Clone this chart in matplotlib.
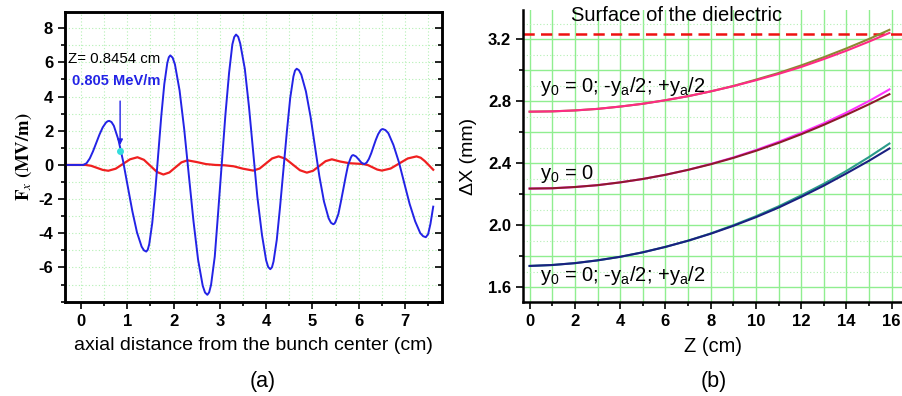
import matplotlib
matplotlib.use("Agg")
import matplotlib.pyplot as plt
from matplotlib.ticker import MultipleLocator

plt.rcParams['font.family'] = ['Liberation Sans', 'DejaVu Sans']

# ---- panel (a): transverse force along the bunch ----
blue_x = [-0.35, 0.05, 0.12, 0.19, 0.26, 0.33, 0.40, 0.47, 0.54, 0.575, 0.61, 0.66,
          0.71, 0.81, 0.91, 1.01, 1.11, 1.21, 1.31, 1.36, 1.41, 1.4425,
          1.475, 1.54, 1.605, 1.67, 1.735, 1.80, 1.865, 1.8975, 1.93, 1.98,
          2.03, 2.13, 2.23, 2.33, 2.43, 2.53, 2.63, 2.68, 2.73, 2.769,
          2.81, 2.89, 2.96, 3.04, 3.12, 3.20, 3.27, 3.311, 3.35, 3.396,
          3.44, 3.54, 3.63, 3.72, 3.81, 3.91, 4.00, 4.044, 4.09, 4.126,
          4.16, 4.23, 4.30, 4.375, 4.45, 4.52, 4.59, 4.624, 4.66, 4.709,
          4.76, 4.86, 4.96, 5.055, 5.15, 5.25, 5.35, 5.401, 5.45, 5.477,
          5.50, 5.56, 5.61, 5.665, 5.72, 5.77, 5.83, 5.853, 5.88,
          5.94, 6.00, 6.06, 6.12,
          6.17, 6.22, 6.27, 6.32, 6.37, 6.42, 6.47, 6.495, 6.52, 6.578,
          6.64, 6.75, 6.87, 6.985, 7.10, 7.22, 7.33, 7.392, 7.45,
          7.50, 7.55, 7.61]
blue_y = [0, 0, 0.10, 0.38, 0.80, 1.29, 1.78, 2.20, 2.48, 2.555, 2.58, 2.507,
          2.29, 1.46, 0.22, -1.25, -2.71, -3.95, -4.78, -4.997, -5.07, -4.961,
          -4.63, -3.39, -1.53, 0.67, 2.87, 4.73, 5.97, 6.301, 6.41, 6.277,
          5.88, 4.36, 2.09, -0.60, -3.28, -5.55, -7.07, -7.467, -7.60, -7.455,
          -7.02, -5.37, -2.90, 0.02, 2.93, 5.40, 7.05, 7.485, 7.63, 7.50,
          7.11, 5.62, 3.39, 0.77, -1.86, -4.09, -5.58, -5.97, -6.10, -5.989,
          -5.65, -4.38, -2.48, -0.24, 2.01, 3.91, 5.18, 5.519, 5.63, 5.544,
          5.28, 4.30, 2.82, 1.08, -0.66, -2.14, -3.12, -3.384, -3.47, -3.432,
          -3.32, -2.88, -2.22, -1.45, -0.67, -0.01, 0.43, 0.542, 0.58,
          0.50, 0.32, 0.13, 0.05,
          0.13, 0.35, 0.68, 1.08, 1.47, 1.80, 2.02, 2.081, 2.10, 2.04,
          1.86, 1.17, 0.15, -1.07, -2.28, -3.30, -3.99, -4.17, -4.23,
          -4.05, -3.45, -2.44]

red_x = [-0.35, 0.1, 0.22, 0.345, 0.47, 0.59, 0.75, 0.905, 1.06, 1.22,
         1.36, 1.50, 1.64, 1.78, 1.91, 2.04, 2.17, 2.30,
         2.5, 2.7, 2.9, 3.1, 3.3, 3.5, 3.72, 3.86, 3.995, 4.13, 4.27,
         4.42, 4.575, 4.73, 4.88, 5.015, 5.15, 5.285, 5.42,
         5.6, 5.8, 6.0, 6.1, 6.2, 6.3, 6.4, 6.5,
         6.69, 6.875, 7.06, 7.25, 7.34, 7.43, 7.52, 7.61]
red_y = [0, 0, -0.05, -0.17, -0.29, -0.34, -0.22, 0.055, 0.33, 0.45,
         0.30, -0.055, -0.41, -0.56, -0.44, -0.145, 0.15, 0.27,
         0.17, 0.05, 0.0, -0.02, -0.08, -0.22, -0.33, -0.21, 0.085, 0.38, 0.50,
         0.36, 0.025, -0.31, -0.45, -0.34, -0.06, 0.22, 0.33,
         0.20, 0.10, 0.07, 0.05, -0.01, -0.14, -0.27, -0.33,
         -0.21, 0.085, 0.38, 0.50, 0.42, 0.22, -0.03, -0.28]

marker_z = 0.8454
marker_f = 0.805

a_xticks = [0, 1, 2, 3, 4, 5, 6, 7]
a_xlabels = ['0', '1', '2', '3', '4', '5', '6', '7']
a_yticks = [-6, -4, -2, 0, 2, 4, 6, 8]
a_ylabels = ['-6', '-4', '-2', '0', '2', '4', '6', '8']

# ---- panel (b): transverse offset vs Z ----
z = [0, 1, 2, 3, 4, 5, 6, 7, 8, 9, 10, 11, 12, 13, 14, 15, 15.9]
top_olive = [2.733, 2.735, 2.741, 2.751, 2.766, 2.784, 2.807, 2.833, 2.864,
             2.899, 2.940, 2.983, 3.032, 3.085, 3.142, 3.203, 3.262]
top_pink = [2.733, 2.735, 2.741, 2.751, 2.766, 2.784, 2.807, 2.833, 2.864,
            2.898, 2.936, 2.977, 3.022, 3.073, 3.127, 3.186, 3.242]
mid_magenta = [2.236, 2.238, 2.246, 2.258, 2.276, 2.298, 2.325, 2.357, 2.395,
               2.437, 2.485, 2.538, 2.596, 2.658, 2.727, 2.802, 2.877]
mid_maroon = [2.236, 2.238, 2.246, 2.258, 2.276, 2.298, 2.325, 2.357, 2.393,
              2.434, 2.480, 2.531, 2.587, 2.648, 2.713, 2.781, 2.846]
bot_teal = [1.736, 1.742, 1.754, 1.772, 1.795, 1.824, 1.859, 1.899, 1.946,
            1.999, 2.057, 2.121, 2.192, 2.267, 2.350, 2.440, 2.527]
bot_navy = [1.736, 1.742, 1.754, 1.772, 1.795, 1.824, 1.859, 1.899, 1.944,
            1.995, 2.051, 2.113, 2.182, 2.255, 2.334, 2.416, 2.495]
surface = 3.234

b_xticks = [0, 2, 4, 6, 8, 10, 12, 14, 16]
b_xlabels = ['0', '2', '4', '6', '8', '10', '12', '14', '16']
b_yticks = [1.6, 2.0, 2.4, 2.8, 3.2]
b_ylabels = ['1.6', '2.0', '2.4', '2.8', '3.2']

y_label_text = r'y$_\mathregular{0}$ = 0; -y$_\mathregular{a}$/2; +y$_\mathregular{a}$/2'
y_label_single = r'y$_\mathregular{0}$ = 0'

fig = plt.figure(figsize=(9.03, 3.96), dpi=100)

# ---------------- (a) ----------------
ax1 = fig.add_axes([0.072, 0.2374, 0.4175, 0.7323])
ax1.set_xlim(-0.345, 7.8)
ax1.set_ylim(-8.02, 8.95)
for gx in [i * 0.5 for i in range(0, 16)]:
    ax1.axvline(gx, color='#b4f0b4', lw=0.8, ls=(0, (1, 2)), zorder=0)
for gy in range(-8, 9):
    ax1.axhline(gy, color='#b4f0b4', lw=0.8, ls=(0, (1, 2)), zorder=0)

ax1.plot(blue_x, blue_y, color='#2323e6', lw=1.4, zorder=3,
         solid_joinstyle='round')
ax1.plot(red_x, red_y, color='#f02020', lw=1.6, zorder=2,
         solid_joinstyle='round')
ax1.annotate('', xy=(marker_z, marker_f + 0.2), xytext=(marker_z, 3.9),
             arrowprops=dict(arrowstyle='-|>', color='#2323e6', lw=1.0,
                             mutation_scale=8), zorder=4)
ax1.plot([marker_z], [marker_f], 'o', color='#33dddd', ms=4, zorder=5)
ax1.text(-0.28, 6.2, 'Z= 0.8454 cm', fontsize=10.8, color='black', va='center')
ax1.text(-0.19, 4.9, '0.805 MeV/m', fontsize=10.5, color='#2323e6',
         fontweight='bold', va='center')

ax1.set_xticks(a_xticks)
ax1.set_xticklabels(a_xlabels, fontweight='bold', fontsize=12)
ax1.set_yticks(a_yticks)
ax1.set_yticklabels(a_ylabels, fontweight='bold', fontsize=12)
ax1.xaxis.set_minor_locator(MultipleLocator(0.5))
ax1.yaxis.set_minor_locator(MultipleLocator(1))
ax1.tick_params(which='both', direction='out', width=1.2, top=False, right=False)
ax1.tick_params(which='major', length=5)
ax1.tick_params(which='minor', length=3)
for sp in ax1.spines.values():
    sp.set_linewidth(1.8)

# inward ticks on the right frame
ax1r = ax1.twinx()
ax1r.set_ylim(ax1.get_ylim())
ax1r.set_yticks(a_yticks)
ax1r.yaxis.set_minor_locator(MultipleLocator(1))
ax1r.tick_params(which='both', direction='in', labelright=False, width=1.2)
ax1r.tick_params(which='major', length=5)
ax1r.tick_params(which='minor', length=3)
for sp in ax1r.spines.values():
    sp.set_linewidth(1.8)

ax1.set_xlabel('axial distance from the bunch center (cm)', fontsize=14, labelpad=6)
ax1.set_ylabel(r'$\mathbf{F}_{x}\ \mathbf{(MV/m)}$', fontsize=13.5, math_fontfamily='stix',
               labelpad=3)

# ---------------- (b) ----------------
ax2 = fig.add_axes([0.579, 0.2374, 0.421, 0.7373])
ax2.set_xlim(-0.3, 16.5)
ax2.set_ylim(1.503, 3.39)
for gx in range(0, 17):
    ax2.axvline(gx, color='#90ee90', lw=1.0, zorder=0)
for i in range(15, 34):
    gy = i * 0.1
    if i % 2 == 0:
        ax2.axhline(gy, color='#90ee90', lw=1.0, zorder=0)
    else:
        ax2.axhline(gy, color='#b4f0b4', lw=0.8, ls=(0, (1, 2)), zorder=0)

ax2.axhline(surface, color='#ee1111', lw=1.8, ls=(0, (4.5, 2.5)), zorder=2)

ax2.plot(z, top_olive, color='#8a8a30', lw=1.5, zorder=3)
ax2.plot(z, top_pink, color='#ff2a84', lw=1.5, zorder=4)
ax2.plot(z, mid_magenta, color='#ff33ff', lw=1.5, zorder=3)
ax2.plot(z, mid_maroon, color='#8e1a2c', lw=1.5, zorder=4)
ax2.plot(z, bot_teal, color='#2a9a8a', lw=1.5, zorder=3)
ax2.plot(z, bot_navy, color='#1a2080', lw=1.5, zorder=4)

ax2.text(1.85, 3.355, 'Surface of the dielectric', fontsize=14.5, va='center')
ax2.text(0.44, 2.895, y_label_text, fontsize=14.5, va='center',
         math_fontfamily='dejavusans')
ax2.text(0.44, 2.33, y_label_single, fontsize=14.5, va='center',
         math_fontfamily='dejavusans')
ax2.text(0.44, 1.675, y_label_text, fontsize=14.5, va='center',
         math_fontfamily='dejavusans')

ax2.set_xticks(b_xticks)
ax2.set_xticklabels(b_xlabels, fontweight='bold', fontsize=12)
ax2.set_yticks(b_yticks)
ax2.set_yticklabels(b_ylabels, fontweight='bold', fontsize=12)
ax2.xaxis.set_minor_locator(MultipleLocator(1))
ax2.yaxis.set_minor_locator(MultipleLocator(0.2))
ax2.tick_params(which='both', direction='out', width=1.2)
ax2.tick_params(which='major', length=5)
ax2.tick_params(which='minor', length=3)
ax2.spines['top'].set_visible(False)
ax2.spines['right'].set_visible(False)
ax2.spines['left'].set_linewidth(1.8)
ax2.spines['bottom'].set_linewidth(1.8)

ax2.set_xlabel('Z (cm)', fontsize=14.5, labelpad=6)
ax2.set_ylabel('\u0394X (mm)', fontsize=14, labelpad=8)

fig.text(0.291, 0.036, '(a)', fontsize=15.5, ha='center', va='center')
fig.text(0.79, 0.036, '(b)', fontsize=15.5, ha='center', va='center')

fig.savefig('out.png', dpi=100)
